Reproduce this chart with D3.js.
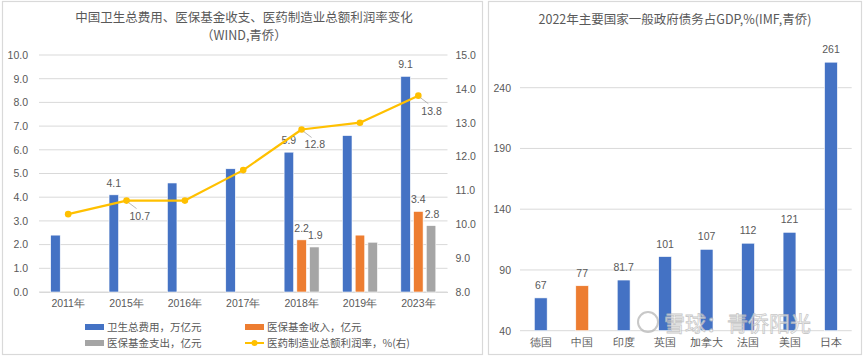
<!DOCTYPE html>
<html><head><meta charset="utf-8">
<script src="https://cdn.jsdelivr.net/npm/d3@7"></script>
<style>
html,body{margin:0;padding:0;background:#fff;}
svg{display:block;font-family:"Noto Sans CJK SC","Liberation Sans",sans-serif;}
</style></head>
<body><svg id="c" width="865" height="360"></svg>
<script>
// ---- Left chart data ----
const years = ["2011年","2015年","2016年","2017年","2018年","2019年","2023年"];
const healthSpend = [2.4, 4.1, 4.6, 5.2, 5.9, 6.6, 9.1];          // 卫生总费用，万亿元
const fundIncome = [null, null, null, null, 2.2, 2.4, 3.4];        // 医保基金收入，亿元
const fundExpense = [null, null, null, null, 1.9, 2.1, 2.8];       // 医保基金支出，亿元
const profitRate = [10.3, 10.7, 10.7, 11.6, 12.8, 13.0, 13.8];     // 医药制造业总额利润率，%(右)
const leftTicks = [0,1,2,3,4,5,6,7,8,9,10];
const rightTicks = [8,9,10,11,12,13,14,15];
const blueLabelIdx = [1,4,6];
const pairLabelIdx = [4,6];
const lineLabelIdx = [1,4,6];
const leftTitle1 = "中国卫生总费用、医保基金收支、医药制造业总额利润率变化";
const leftTitle2 = "（WIND,青侨）";
const legendNames = ["卫生总费用，万亿元","医保基金收入，亿元","医保基金支出，亿元","医药制造业总额利润率，%(右)"];

// ---- Right chart data ----
const countries = ["德国","中国","印度","英国","加拿大","法国","美国","日本"];
const debtRatio = [67, 77, 81.7, 101, 107, 112, 121, 261];
const debtLabels = ["67","77","81.7","101","107","112","121","261"];
const debtTicks = [40, 90, 140, 190, 240];
const rightTitle = "2022年主要国家一般政府债务占GDP,%(IMF,青侨)";
const watermark = "雪球：青侨阳光";

const BLUE="#4472C4", ORANGE="#ED7D31", GRAY="#A5A5A5", GOLD="#FFC000";
const TXT="#595959", GRID="#D9D9D9";

const svg = d3.select("#c");

// panels
svg.append("rect").attr("x",2.5).attr("y",1.5).attr("width",480).attr("height",353)
  .attr("fill","#fff").attr("stroke","#D9D9D9").attr("stroke-width",1.2);
svg.append("rect").attr("x",488.5).attr("y",1.5).attr("width",373).attr("height",353)
  .attr("fill","#fff").attr("stroke","#D9D9D9").attr("stroke-width",1.2);

// ===== LEFT CHART =====
const L = {left:39, right:447.5, top:55, bottom:292};
const x0 = d3.scaleBand().domain(years).range([L.left, L.right]);
const series = ["a","b","c"];
const x1 = d3.scaleBand().domain(series).range([0,35]).paddingInner(0.25);
const gx = (i)=> x0(years[i]) + x0.bandwidth()/2 - 17.5;
const yL = d3.scaleLinear().domain([0,10]).range([L.bottom, L.top]);
const yR = d3.scaleLinear().domain([8,15]).range([L.bottom, L.top]);

const gL = svg.append("g");
// gridlines
gL.append("g").selectAll("line").data(leftTicks).join("line")
  .attr("x1",L.left).attr("x2",L.right)
  .attr("y1",d=>yL(d)).attr("y2",d=>yL(d))
  .attr("stroke",GRID).attr("stroke-width",1);

// left axis
const axL = gL.append("g").attr("transform",`translate(${L.left},0)`)
  .call(d3.axisLeft(yL).tickValues(leftTicks).tickFormat(d3.format(".1f")).tickSize(0).tickPadding(11));
axL.select(".domain").remove();
axL.selectAll("text").attr("fill",TXT).style("font-size","10.5px").style("font-family","'Liberation Sans',sans-serif");

// right axis
const axR = gL.append("g").attr("transform",`translate(${L.right},0)`)
  .call(d3.axisRight(yR).tickValues(rightTicks).tickFormat(d3.format(".1f")).tickSize(0).tickPadding(8));
axR.select(".domain").remove();
axR.selectAll("text").attr("fill",TXT).style("font-size","10.5px").style("font-family","'Liberation Sans',sans-serif");

// x axis
const axX = gL.append("g").attr("transform",`translate(0,${L.bottom})`)
  .call(d3.axisBottom(x0).tickSize(0).tickPadding(8));
axX.select(".domain").attr("stroke",GRID);
axX.selectAll("text").attr("fill",TXT).style("font-size","10.5px");

// bars
const barData = [[healthSpend,"a",BLUE],[fundIncome,"b",ORANGE],[fundExpense,"c",GRAY]];
barData.forEach(([vals,key,col])=>{
  gL.append("g").selectAll("rect").data(vals.map((v,i)=>({v,i})).filter(d=>d.v!=null)).join("rect")
    .attr("x",d=>gx(d.i)+x1(key)).attr("width",x1.bandwidth())
    .attr("y",d=>yL(d.v)).attr("height",d=>yL(0)-yL(d.v))
    .attr("fill",col).attr("stroke","#fff").attr("stroke-width",0.6);
});

// bar labels
gL.append("g").selectAll("text").data(blueLabelIdx).join("text")
  .attr("x",i=>gx(i)+x1("a")+x1.bandwidth()/2).attr("y",i=>yL(healthSpend[i])-8)
  .attr("text-anchor","middle").attr("fill",TXT).style("font-size","10.5px")
  .style("font-family","'Liberation Sans',sans-serif").text(i=>healthSpend[i].toFixed(1));
gL.append("g").selectAll("text").data(pairLabelIdx).join("text")
  .attr("x",i=>gx(i)+x1("b")+x1.bandwidth()/2).attr("y",i=>yL(fundIncome[i])-8)
  .attr("text-anchor","middle").attr("fill",TXT).style("font-size","10.5px")
  .style("font-family","'Liberation Sans',sans-serif").text(i=>fundIncome[i].toFixed(1));
gL.append("g").selectAll("text").data(pairLabelIdx).join("text")
  .attr("x",i=>gx(i)+x1("c")+x1.bandwidth()/2+1).attr("y",i=>yL(fundExpense[i])-8)
  .attr("text-anchor","middle").attr("fill",TXT).style("font-size","10.5px")
  .style("font-family","'Liberation Sans',sans-serif").text(i=>fundExpense[i].toFixed(1));

// line
const cx = (i)=> x0(years[i]) + x0.bandwidth()/2;
const line = d3.line().x((d,i)=>cx(i)).y(d=>yR(d));
gL.append("path").datum(profitRate).attr("d",line)
  .attr("fill","none").attr("stroke",GOLD).attr("stroke-width",2.2).attr("stroke-linejoin","round");
gL.append("g").selectAll("circle").data(profitRate).join("circle")
  .attr("cx",(d,i)=>cx(i)).attr("cy",d=>yR(d)).attr("r",3.3).attr("fill",GOLD);

// line labels with leader lines
const ll = gL.append("g");
lineLabelIdx.forEach(i=>{
  const px = cx(i), py = yR(profitRate[i]);
  ll.append("line").attr("x1",px+2).attr("y1",py+2).attr("x2",px+10).attr("y2",py+8)
    .attr("stroke","#A6A6A6").attr("stroke-width",0.8);
  ll.append("text").attr("x",px+3).attr("y",py+19).attr("fill",TXT)
    .style("font-size","10.5px").style("font-family","'Liberation Sans',sans-serif")
    .text(profitRate[i].toFixed(1));
});

// title
gL.append("text").attr("x",244).attr("y",22).attr("text-anchor","middle")
  .attr("fill",TXT).style("font-size","12.5px").text(leftTitle1);
gL.append("text").attr("x",244).attr("y",40).attr("text-anchor","middle")
  .attr("fill",TXT).style("font-size","12.5px").text(leftTitle2);

// legend
const legPos = [[85,327],[245,327],[85,343],[245,343]];
const legCol = [BLUE,ORANGE,GRAY,GOLD];
legendNames.forEach((n,k)=>{
  const [lx,ly] = legPos[k];
  if(k<3){
    gL.append("rect").attr("x",lx).attr("y",ly-3).attr("width",19).attr("height",6).attr("fill",legCol[k]);
  } else {
    gL.append("line").attr("x1",lx).attr("x2",lx+19).attr("y1",ly).attr("y2",ly)
      .attr("stroke",GOLD).attr("stroke-width",2);
    gL.append("circle").attr("cx",lx+9.5).attr("cy",ly).attr("r",3).attr("fill",GOLD);
  }
  gL.append("text").attr("x",lx+22).attr("y",ly+4).attr("fill",TXT)
    .style("font-size","10.5px").text(n);
});

// ===== RIGHT CHART =====
const R = {left:520, right:851.7, top:26, bottom:330.7};
const xc = d3.scaleBand().domain(countries).range([R.left, R.right]).paddingInner(0.69).paddingOuter(0.345);
const yD = d3.scaleLinear().domain([40, 40 + (R.bottom-R.top)/1.215]).range([R.bottom, R.top]);

const gR = svg.append("g");
gR.append("g").selectAll("line").data(debtTicks).join("line")
  .attr("x1",R.left).attr("x2",R.right).attr("y1",d=>yD(d)).attr("y2",d=>yD(d))
  .attr("stroke",GRID).attr("stroke-width",1);
const axD = gR.append("g").attr("transform",`translate(${R.left},0)`)
  .call(d3.axisLeft(yD).tickValues(debtTicks).tickSize(0).tickPadding(9));
axD.select(".domain").remove();
axD.selectAll("text").attr("fill",TXT).style("font-size","10.5px").style("font-family","'Liberation Sans',sans-serif");

gR.append("g").selectAll("rect").data(countries).join("rect")
  .attr("x",d=>xc(d)).attr("width",xc.bandwidth())
  .attr("y",(d,i)=>yD(debtRatio[i])).attr("height",(d,i)=>yD(40)-yD(debtRatio[i]))
  .attr("fill",d=>d==="中国"?ORANGE:BLUE).attr("stroke","#fff").attr("stroke-width",0.6);
gR.append("g").selectAll("text").data(countries).join("text")
  .attr("x",d=>xc(d)+xc.bandwidth()/2).attr("y",(d,i)=>yD(debtRatio[i])-9)
  .attr("text-anchor","middle").attr("fill",TXT).style("font-size","10.5px")
  .style("font-family","'Liberation Sans',sans-serif").text((d,i)=>debtLabels[i]);
const axC = gR.append("g").attr("transform",`translate(0,${R.bottom})`)
  .call(d3.axisBottom(xc).tickSize(0).tickPadding(8));
axC.select(".domain").remove();
axC.selectAll("text").attr("fill",TXT).style("font-size","10.5px");

gR.append("text").attr("x",675).attr("y",24).attr("text-anchor","middle")
  .attr("fill",TXT).style("font-size","12.5px").text(rightTitle);

// watermark (kept above the category labels)
const wm = svg.append("g").attr("opacity",0.8);
wm.append("circle").attr("cx",648).attr("cy",322).attr("r",10)
  .attr("fill","none").attr("stroke","#bbb").attr("stroke-width",2);
wm.append("text").attr("x",664).attr("y",331).attr("fill","#fff").attr("stroke","#bbb")
  .attr("stroke-width",0.8).style("font-size","21px").text(watermark);
</script></body></html>
